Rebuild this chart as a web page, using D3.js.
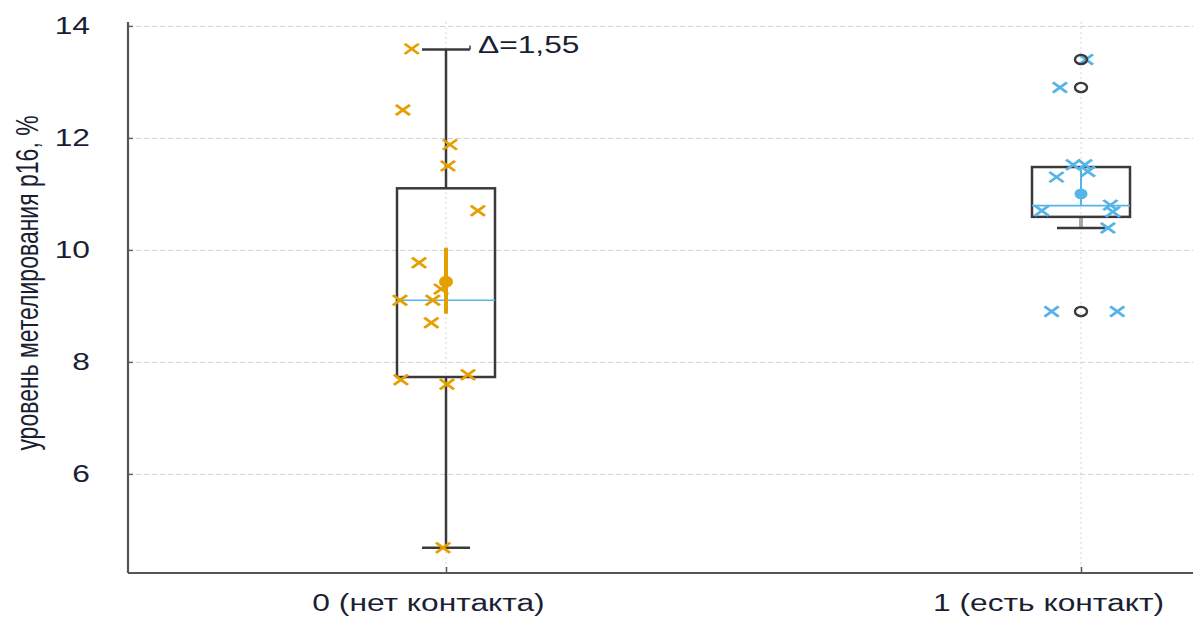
<!DOCTYPE html>
<html>
<head>
<meta charset="utf-8">
<script src="https://cdn.jsdelivr.net/npm/d3@7"></script>
<style>
  body { margin: 0; background: #fff; }
  svg { display: block; }
  text { font-family: "Liberation Sans", Arial, sans-serif; }
</style>
</head>
<body>
<svg id="chart" width="1193" height="617"></svg>
<script>
// categories and summary stats
const categories = ["0 (нет контакта)", "1 (есть контакт)"];
const yTicks = [6, 8, 10, 12, 14];

const q1 = [7.73, 10.59];
const q3 = [11.1, 11.48];
const medians = [9.1, 10.79];
const whiskerLow = [4.68, 10.39];
const whiskerHigh = [13.58, 11.48];
const means = [9.43, 11.0];
const meanLow = [8.86, 10.8];
const meanHigh = [10.04, 11.5];
const outliers = [[], [13.4, 12.9, 8.9]];

// raw points, with horizontal jitter as a fraction of the half box width
const values0 = [13.59, 12.5, 11.88, 11.5, 10.7, 9.77, 9.3, 9.1, 9.1, 8.7, 7.68, 7.77, 7.6, 4.68];
const jitter0 = [-0.7, -0.88, 0.08, 0.04, 0.65, -0.55, -0.1, -0.94, -0.27, -0.3, -0.92, 0.45, 0.02, -0.06];
const values1 = [13.4, 12.9, 11.3, 11.52, 11.52, 11.4, 10.7, 10.8, 10.68, 10.39, 8.9, 8.9];
const jitter1 = [0.1, -0.43, -0.5, -0.16, 0.08, 0.14, -0.8, 0.6, 0.65, 0.55, -0.6, 0.74];

const deltaLabel = "Δ=1,55";
const yTitle = "уровень метелирования p16, %";

const colors = ["#E69F00", "#56B4E9"];
const sx = 1.38; // horizontal stretch of the original picture
const ink = "#1b1f33";

const svg = d3.select("#chart");
const plotLeft = 128, plotRight = 1193, plotTop = 22, plotBottom = 573;
const halfBox = 49, capHalf = 24;
const labelShift = [-18, -33]; // x labels sit a little left of their ticks

const x = d3.scalePoint().domain(categories).range([446, 1081]);
const y = d3.scaleLinear().domain([4.23, 14.07]).range([plotBottom, plotTop]);

// horizontal grid
svg.append("g")
  .attr("transform", "translate(" + plotLeft + ",0)")
  .call(d3.axisLeft(y).tickValues(yTicks).tickSize(-(plotRight - plotLeft)).tickFormat(""))
  .call(g => g.select(".domain").remove())
  .selectAll("line")
    .attr("stroke", "#cfcfcf")
    .attr("stroke-dasharray", "5,3");

// vertical dotted grid at categories
svg.append("g").selectAll("line")
  .data(categories)
  .enter().append("line")
    .attr("x1", d => x(d)).attr("x2", d => x(d))
    .attr("y1", plotTop).attr("y2", plotBottom)
    .attr("stroke", "#d6d6d6")
    .attr("stroke-dasharray", "2,3");

const groups = categories.map((c, i) => ({
  cat: c, i: i,
  q1: q1[i], q3: q3[i], med: medians[i],
  lo: whiskerLow[i], hi: whiskerHigh[i],
  mean: means[i], mLo: meanLow[i], mHi: meanHigh[i]
}));

const boxG = svg.append("g");

// whisker stems
boxG.selectAll(".stem-low")
  .data(groups)
  .enter().append("line")
    .attr("x1", d => x(d.cat)).attr("x2", d => x(d.cat))
    .attr("y1", d => y(d.q1)).attr("y2", d => y(d.lo))
    .attr("stroke", d => d.i === 0 ? "#3a3a3a" : "#a8a8a8")
    .attr("stroke-width", d => d.i === 0 ? 2.5 : 4);

boxG.selectAll(".stem-high")
  .data(groups.filter(d => d.hi > d.q3))
  .enter().append("line")
    .attr("x1", d => x(d.cat)).attr("x2", d => x(d.cat))
    .attr("y1", d => y(d.q3)).attr("y2", d => y(d.hi))
    .attr("stroke", "#3a3a3a")
    .attr("stroke-width", 2.5);

// caps
boxG.selectAll(".cap-low")
  .data(groups)
  .enter().append("line")
    .attr("x1", d => x(d.cat) - capHalf).attr("x2", d => x(d.cat) + capHalf)
    .attr("y1", d => y(d.lo)).attr("y2", d => y(d.lo))
    .attr("stroke", "#3a3a3a")
    .attr("stroke-width", 2.5);

boxG.selectAll(".cap-high")
  .data(groups.filter(d => d.hi > d.q3))
  .enter().append("line")
    .attr("x1", d => x(d.cat) - capHalf).attr("x2", d => x(d.cat) + capHalf)
    .attr("y1", d => y(d.hi)).attr("y2", d => y(d.hi))
    .attr("stroke", "#3a3a3a")
    .attr("stroke-width", 2.5);

// boxes
boxG.selectAll("rect")
  .data(groups)
  .enter().append("rect")
    .attr("x", d => x(d.cat) - halfBox)
    .attr("y", d => y(d.q3))
    .attr("width", halfBox * 2)
    .attr("height", d => y(d.q1) - y(d.q3))
    .attr("fill", "none")
    .attr("stroke", "#3a3a3a")
    .attr("stroke-width", 2.5);

// medians
boxG.selectAll(".median")
  .data(groups)
  .enter().append("line")
    .attr("x1", d => x(d.cat) - halfBox).attr("x2", d => x(d.cat) + halfBox)
    .attr("y1", d => y(d.med)).attr("y2", d => y(d.med))
    .attr("stroke", colors[1])
    .attr("stroke-width", 1.6);

// mean interval
boxG.selectAll(".mean-ci")
  .data(groups)
  .enter().append("line")
    .attr("x1", d => x(d.cat)).attr("x2", d => x(d.cat))
    .attr("y1", d => y(d.mHi)).attr("y2", d => y(d.mLo))
    .attr("stroke", d => colors[d.i])
    .attr("stroke-width", d => d.i === 0 ? 4 : 2);

// points
const cross = d3.symbol(d3.symbolX, 70)();
const pointData = values0.map((v, k) => ({ g: 0, v: v, j: jitter0[k] }))
  .concat(values1.map((v, k) => ({ g: 1, v: v, j: jitter1[k] })));

svg.append("g").selectAll("path")
  .data(pointData)
  .enter().append("path")
    .attr("d", cross)
    .attr("transform", d => "translate(" + (x(categories[d.g]) + d.j * halfBox) + "," + y(d.v) + ") scale(" + sx + ",1)")
    .attr("fill", "none")
    .attr("stroke", d => colors[d.g])
    .attr("stroke-width", 2.4);

// mean dots
boxG.selectAll(".mean-dot")
  .data(groups)
  .enter().append("ellipse")
    .attr("cx", d => x(d.cat))
    .attr("cy", d => y(d.mean))
    .attr("rx", d => d.i === 0 ? 7 : 6.5)
    .attr("ry", d => d.i === 0 ? 6 : 5.5)
    .attr("fill", d => colors[d.i]);

// outliers
const outData = [];
outliers.forEach((arr, i) => arr.forEach(v => outData.push({ g: i, v: v })));
svg.append("g").selectAll("ellipse")
  .data(outData)
  .enter().append("ellipse")
    .attr("cx", d => x(categories[d.g]))
    .attr("cy", d => y(d.v))
    .attr("rx", 6)
    .attr("ry", 4.6)
    .attr("fill", "none")
    .attr("stroke", "#3a3a3a")
    .attr("stroke-width", 2.4);

// delta annotation on the top whisker of group 0
const capY = y(whiskerHigh[0]);
svg.append("line")
  .attr("x1", x(categories[0]) + capHalf).attr("x2", x(categories[0]) + capHalf)
  .attr("y1", capY - 4).attr("y2", capY)
  .attr("stroke", "#3a3a3a").attr("stroke-width", 1.5);
svg.append("text")
  .attr("transform", "translate(" + (x(categories[0]) + 32) + "," + (capY - 4) + ") scale(" + sx + ",1)")
  .attr("dy", "0.35em")
  .attr("font-size", 23)
  .attr("fill", ink)
  .text(deltaLabel);

// y axis
const yAxis = svg.append("g")
  .attr("transform", "translate(" + plotLeft + ",0)")
  .call(d3.axisLeft(y).tickValues(yTicks).tickSize(-5).tickSizeOuter(0));
yAxis.select(".domain").remove();
yAxis.append("line")
  .attr("x1", 0).attr("x2", 0).attr("y1", plotTop).attr("y2", plotBottom)
  .attr("stroke", "#555").attr("stroke-width", 2.2);
yAxis.selectAll(".tick line").attr("stroke", "#666").attr("stroke-width", 1.5);
yAxis.selectAll(".tick text")
  .attr("x", -38 / sx)
  .attr("transform", "scale(" + sx + ",1)")
  .attr("font-size", 23)
  .attr("fill", ink);

// x axis
const xAxis = svg.append("g")
  .attr("transform", "translate(0," + plotBottom + ")")
  .call(d3.axisBottom(x).tickSize(-6).tickSizeOuter(0));
xAxis.select(".domain").remove();
xAxis.append("line")
  .attr("x1", plotLeft).attr("x2", plotRight).attr("y1", 0).attr("y2", 0)
  .attr("stroke", "#555").attr("stroke-width", 2.2);
xAxis.selectAll(".tick line").attr("stroke", "#555").attr("stroke-width", 1.5);
xAxis.selectAll(".tick text")
  .attr("x", (d, i) => labelShift[i] / sx)
  .attr("y", 22)
  .attr("transform", "scale(" + sx + ",1)")
  .attr("font-size", 23)
  .attr("fill", ink);

// y title
svg.append("text")
  .attr("transform", "translate(27,283) scale(" + sx + ",1) rotate(-90)")
  .attr("text-anchor", "middle")
  .attr("dy", "0.35em")
  .attr("font-size", 23)
  .attr("fill", ink)
  .text(yTitle);
</script>
</body>
</html>
